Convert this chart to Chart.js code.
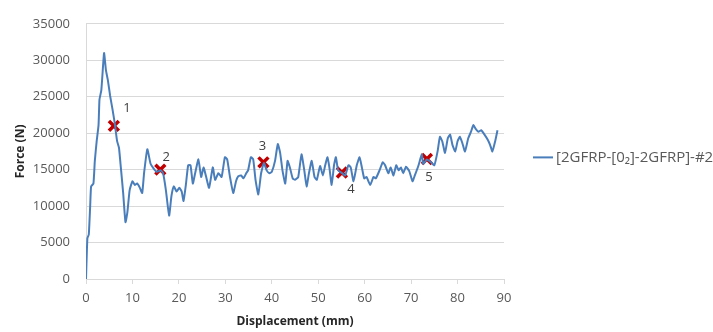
<!DOCTYPE html>
<html>
<head>
<meta charset="utf-8">
<script src="https://cdn.jsdelivr.net/npm/chart.js@4.4.1/dist/chart.umd.min.js"></script>
<style>
  html, body {
    margin: 0;
    padding: 0;
    background: #ffffff;
  }
  #wrap {
    width: 713px;
    height: 332px;
  }
</style>
</head>
<body>
<div id="wrap"><canvas id="forceChart" width="713" height="332"></canvas></div>
<script>
const seriesName = "[2GFRP-[0\u2082]-2GFRP]-#2";

// displacement (mm) and force (N) of the test curve
const dispMm = [
  0, 0.3, 0.6, 0.9, 1.1, 1.6, 1.9, 2.3, 2.7, 2.9, 3.3, 3.7, 3.9, 4.3, 4.7, 5.2, 5.7, 6.2, 6.7, 7.1,
  7.5, 8.0, 8.5, 8.9, 9.4, 10.0, 10.5, 11.0, 11.6, 12.1, 12.5, 13.2, 13.9, 14.5, 15.2, 16.1, 16.6, 17.2, 17.9, 18.4,
  18.9, 19.5, 20.1, 20.6, 21.0, 21.5, 22.0, 22.5, 23.0, 23.5, 24.2, 24.8, 25.3, 25.8, 26.5, 27.3, 27.8, 28.5, 29.2, 29.9,
  30.4, 31.0, 31.7, 32.3, 32.8, 33.4, 33.9, 34.5, 34.9, 35.5, 36.0, 36.5, 37.1, 37.7, 38.3, 38.9, 39.5, 40.0, 40.7, 41.3,
  41.8, 42.3, 42.9, 43.4, 43.9, 44.5, 45.0, 45.7, 46.4, 47.0, 47.5, 48.0, 48.6, 49.2, 49.7, 50.4, 51.0, 51.5, 52.0, 52.4,
  52.9, 53.4, 53.8, 54.3, 55.2, 55.8, 56.5, 57.0, 57.6, 58.3, 58.9, 59.4, 59.9, 60.4, 61.2, 61.9, 62.4, 63.2, 63.9, 64.4,
  65.1, 65.6, 66.2, 66.8, 67.3, 67.8, 68.3, 68.9, 69.6, 70.3, 70.8, 71.6, 72.3, 72.6, 73.4, 74.3, 75.0, 75.7, 76.2, 76.7,
  77.3, 77.9, 78.4, 78.9, 79.5, 80.0, 80.5, 81.0, 81.6, 82.3, 82.9, 83.4, 83.9, 84.5, 85.1, 85.8, 86.5, 87.0, 87.5, 88.1,
  88.6
];

const forceN = [
  0, 5600, 6100, 10000, 12700, 13100, 16200, 18900, 21100, 24600, 25900, 29500, 31000, 28600, 27300, 25100, 23300, 21300, 18900, 18000,
  15300, 11800, 7800, 9100, 12200, 13400, 12900, 13100, 12500, 11800, 14500, 17800, 15800, 15200, 14700, 14900, 14500, 12200, 8700, 11400,
  12700, 12000, 12500, 12000, 10700, 12900, 15600, 15600, 13100, 14500, 16400, 14000, 15300, 14200, 12500, 15300, 13600, 14500, 14000, 16700,
  16400, 14000, 11800, 13400, 14100, 14200, 13800, 14500, 14900, 16700, 16400, 13600, 11600, 14500, 15900, 14900, 14500, 14700, 16200, 18500,
  17300, 14900, 13100, 16200, 15300, 13800, 13600, 14000, 17100, 14900, 12700, 14500, 16200, 14000, 13600, 15500, 14200, 15600, 16700, 15300,
  12900, 15600, 16700, 14900, 14500, 14200, 15600, 15300, 13400, 15600, 16700, 15300, 13800, 14000, 12900, 14000, 13800, 14900, 16000, 15600,
  14500, 15300, 14200, 15600, 14900, 15300, 14500, 15400, 14800, 13400, 14200, 15600, 17100, 15800, 16400, 16000, 15600, 17500, 19500, 18900,
  17300, 19300, 19800, 18400, 17500, 18900, 19500, 18700, 17500, 19300, 20200, 21100, 20600, 20200, 20400, 19800, 19100, 18400, 17500, 18900,
  20400
];

// marked points along the curve
const markerX = [6.0, 16.0, 38.2, 55.1, 73.4];
const markerY = [21000, 15000, 16000, 14600, 16450];
const markerLabels = ["1", "2", "3", "4", "5"];

const xTicks = [0, 10, 20, 30, 40, 50, 60, 70, 80, 90];
const yTicks = [0, 5000, 10000, 15000, 20000, 25000, 30000, 35000];

const textColor = "#595959";
const lineColor = "#4a7ebb";
const fontFamily = "'Open Sans', 'Liberation Sans', sans-serif";

function toPoints(xs, ys) {
  const points = [];
  for (let i = 0; i < xs.length; i++) {
    points.push({ x: xs[i], y: ys[i] });
  }
  return points;
}

// number labels next to each red cross
const markerLabelPlugin = {
  id: "markerLabels",
  afterDatasetsDraw: function (chart) {
    const ctx = chart.ctx;
    const xScale = chart.scales.x;
    const yScale = chart.scales.y;
    const offsets = [[13, -18], [6, -12], [-1, -16], [9, 17], [2, 18]];

    ctx.save();
    ctx.font = "13px " + fontFamily;
    ctx.fillStyle = "#404040";
    ctx.textAlign = "center";
    ctx.textBaseline = "middle";
    for (let i = 0; i < markerLabels.length; i++) {
      const px = xScale.getPixelForValue(markerX[i]);
      const py = yScale.getPixelForValue(markerY[i]);
      ctx.fillText(markerLabels[i], px + offsets[i][0], py + offsets[i][1]);
    }
    ctx.restore();
  }
};

// legend entry on the right side
const sideLegendPlugin = {
  id: "sideLegend",
  afterDraw: function (chart) {
    const ctx = chart.ctx;
    const area = chart.chartArea;
    const y = (area.top + area.bottom) / 2 + 6;
    const x0 = area.right + 29;

    ctx.save();
    ctx.strokeStyle = lineColor;
    ctx.lineWidth = 2;
    ctx.beginPath();
    ctx.moveTo(x0, y);
    ctx.lineTo(x0 + 20, y);
    ctx.stroke();

    ctx.font = "15px " + fontFamily;
    ctx.fillStyle = textColor;
    ctx.textAlign = "left";
    ctx.textBaseline = "middle";
    ctx.fillText(chart.data.datasets[0].label, x0 + 23, y);
    ctx.restore();
  }
};

function createForceChart() {
  const ctx = document.getElementById("forceChart").getContext("2d");

  new Chart(ctx, {
    type: "line",
    data: {
      datasets: [
        {
          label: seriesName,
          data: toPoints(dispMm, forceN),
          borderColor: lineColor,
          borderWidth: 2,
          pointRadius: 0,
          tension: 0.15,
          fill: false
        },
        {
          label: "markers",
          type: "scatter",
          data: toPoints(markerX, markerY),
          showLine: false,
          pointStyle: "crossRot",
          pointRadius: 7,
          borderColor: "#c00000",
          backgroundColor: "#c00000",
          borderWidth: 3.5
        }
      ]
    },
    options: {
      responsive: false,
      animation: false,
      layout: {
        padding: { left: 0, right: 209, top: 15, bottom: 0 }
      },
      plugins: {
        legend: { display: false },
        tooltip: { enabled: false }
      },
      scales: {
        x: {
          type: "linear",
          min: 0,
          max: 90,
          afterBuildTicks: function (scale) {
            scale.ticks = xTicks.map(function (v) { return { value: v }; });
          },
          afterFit: function (scale) {
            scale.height = 53;
          },
          grid: {
            drawOnChartArea: false,
            drawTicks: true,
            tickLength: 5,
            color: "#d9d9d9"
          },
          border: { color: "#d9d9d9" },
          ticks: {
            color: textColor,
            padding: 6,
            maxRotation: 0,
            font: { family: fontFamily, size: 13 }
          },
          title: {
            display: true,
            text: "Displacement (mm)",
            color: "#262626",
            padding: { top: 0, bottom: 3 },
            font: { family: fontFamily, size: 12, weight: "bold" }
          }
        },
        y: {
          min: 0,
          max: 35000,
          afterBuildTicks: function (scale) {
            scale.ticks = yTicks.map(function (v) { return { value: v }; });
          },
          afterFit: function (scale) {
            scale.width = 86;
          },
          grid: {
            color: "#d9d9d9",
            drawTicks: false
          },
          border: { color: "#d9d9d9" },
          ticks: {
            color: textColor,
            padding: 16,
            font: { family: fontFamily, size: 13 },
            callback: function (value) {
              return String(value);
            }
          },
          title: {
            display: true,
            text: "Force (N)",
            color: "#262626",
            padding: { top: 13, bottom: 0 },
            font: { family: fontFamily, size: 12, weight: "bold" }
          }
        }
      }
    },
    plugins: [markerLabelPlugin, sideLegendPlugin]
  });
}

createForceChart();
</script>
</body>
</html>
